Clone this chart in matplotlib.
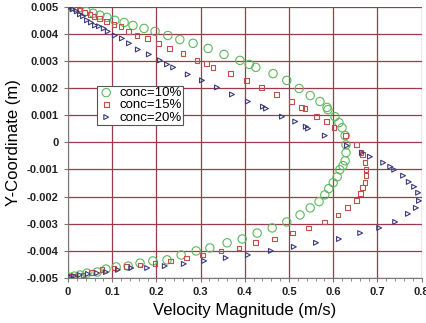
import matplotlib

matplotlib.use("Agg")
import matplotlib.pyplot as plt
from matplotlib.ticker import MultipleLocator

plt.rcParams["font.family"] = ["Liberation Sans", "DejaVu Sans"]

# conc=10% (green circles)
x10 = [0.0, 0.005, 0.023, 0.041, 0.057, 0.072, 0.088, 0.106, 0.127, 0.147, 0.172, 0.197,
       0.226, 0.253, 0.283, 0.317, 0.353, 0.389, 0.410, 0.425, 0.464, 0.495, 0.523, 0.548,
       0.570, 0.586, 0.588, 0.604, 0.613, 0.620, 0.627, 0.629, 0.629, 0.627, 0.622, 0.615,
       0.609, 0.600, 0.590, 0.581, 0.568, 0.548, 0.525, 0.495, 0.462, 0.428, 0.394, 0.360,
       0.321, 0.290, 0.256, 0.224, 0.192, 0.163, 0.136, 0.109, 0.086, 0.066, 0.043, 0.027,
       0.014, 0.0]
y10 = [0.00500, 0.00500, 0.00495, 0.00484, 0.00477, 0.00470, 0.00462, 0.00451, 0.00443,
       0.00432, 0.00421, 0.00410, 0.00395, 0.00380, 0.00366, 0.00347, 0.00325, 0.00303,
       0.00288, 0.00277, 0.00254, 0.00229, 0.00199, 0.00173, 0.00151, 0.00129, 0.00121,
       0.00095, 0.00073, 0.00054, 0.00025, -0.00009, -0.00038, -0.00068, -0.00086, -0.00101,
       -0.00127, -0.00149, -0.00171, -0.00194, -0.00219, -0.00242, -0.00268, -0.00294,
       -0.00316, -0.00335, -0.00357, -0.00371, -0.00390, -0.00401, -0.00416, -0.00434,
       -0.00438, -0.00446, -0.00457, -0.00460, -0.00468, -0.00479, -0.00483, -0.00490,
       -0.00494, -0.00497]

# conc=15% (red squares)
x15 = [0.002, 0.016, 0.027, 0.038, 0.050, 0.059, 0.072, 0.088, 0.104, 0.120, 0.136, 0.156,
       0.179, 0.204, 0.229, 0.260, 0.292, 0.314, 0.328, 0.367, 0.403, 0.437, 0.471, 0.505,
       0.529, 0.536, 0.563, 0.584, 0.602, 0.627, 0.652, 0.663, 0.667, 0.672, 0.674, 0.674,
       0.672, 0.667, 0.661, 0.652, 0.633, 0.611, 0.581, 0.545, 0.507, 0.468, 0.425, 0.387,
       0.346, 0.305, 0.269, 0.231, 0.197, 0.163, 0.133, 0.104, 0.077, 0.054, 0.034, 0.016,
       0.007]
y15 = [0.00500, 0.00495, 0.00488, 0.00480, 0.00473, 0.00466, 0.00458, 0.00447, 0.00436,
       0.00429, 0.00410, 0.00395, 0.00384, 0.00366, 0.00347, 0.00329, 0.00303, 0.00292,
       0.00277, 0.00254, 0.00229, 0.00203, 0.00177, 0.00151, 0.00129, 0.00125, 0.00095,
       0.00077, 0.00054, 0.00025, -0.00009, -0.00038, -0.00046, -0.00075, -0.00101,
       -0.00123, -0.00149, -0.00168, -0.00190, -0.00216, -0.00242, -0.00268, -0.00294,
       -0.00316, -0.00335, -0.00357, -0.00371, -0.00390, -0.00401, -0.00416, -0.00427,
       -0.00438, -0.00446, -0.00453, -0.00460, -0.00464, -0.00471, -0.00482, -0.00490,
       -0.00494, -0.00497]

# conc=20% (blue triangles)
x20 = [0.005, 0.011, 0.020, 0.027, 0.034, 0.043, 0.052, 0.061, 0.070, 0.081, 0.090, 0.106,
       0.122, 0.138, 0.158, 0.183, 0.208, 0.224, 0.238, 0.271, 0.303, 0.337, 0.371, 0.407,
       0.441, 0.448, 0.484, 0.514, 0.538, 0.543, 0.581, 0.631, 0.665, 0.683, 0.713, 0.729,
       0.738, 0.758, 0.771, 0.783, 0.792, 0.794, 0.787, 0.769, 0.740, 0.704, 0.661, 0.613,
       0.561, 0.511, 0.459, 0.407, 0.357, 0.308, 0.262, 0.219, 0.179, 0.143, 0.113, 0.086,
       0.066, 0.045, 0.027, 0.014, 0.005]
y20 = [0.00500, 0.00492, 0.00484, 0.00473, 0.00466, 0.00451, 0.00443, 0.00432, 0.00429,
       0.00421, 0.00410, 0.00395, 0.00384, 0.00366, 0.00343, 0.00325, 0.00303, 0.00288,
       0.00277, 0.00251, 0.00229, 0.00203, 0.00177, 0.00151, 0.00132, 0.00125, 0.00095,
       0.00077, 0.00058, 0.00051, 0.00025, -0.00012, -0.00038, -0.00053, -0.00075,
       -0.00090, -0.00101, -0.00123, -0.00146, -0.00164, -0.00186, -0.00216, -0.00242,
       -0.00264, -0.00294, -0.00316, -0.00335, -0.00357, -0.00371, -0.00386, -0.00401,
       -0.00416, -0.00427, -0.00438, -0.00449, -0.00457, -0.00464, -0.00464, -0.00471,
       -0.00479, -0.00483, -0.00486, -0.00490, -0.00494, -0.00497]

x_ticks = [0, 0.1, 0.2, 0.3, 0.4, 0.5, 0.6, 0.7, 0.8]
y_ticks = [0.005, 0.004, 0.003, 0.002, 0.001, 0, -0.001, -0.002, -0.003, -0.004, -0.005]

fig = plt.figure(figsize=(4.26, 3.23), dpi=100)
ax = fig.add_axes([0.1596, 0.1402, 0.8301, 0.838])

ax.scatter(x10, y10, s=36, marker="o", facecolors="none", edgecolors="#5cb85c",
           linewidths=0.8, label="conc=10%", zorder=3)
ax.scatter(x15, y15, s=12, marker="s", facecolors="none", edgecolors="#c0504d",
           linewidths=0.8, label="conc=15%", zorder=3)
ax.scatter(x20, y20, s=12, marker=">", facecolors="none", edgecolors="#3b3b7a",
           linewidths=0.8, label="conc=20%", zorder=3)

ax.set_xlim(0, 0.8)
ax.set_ylim(-0.005, 0.005)
ax.set_xticks(x_ticks)
ax.set_xticklabels([f"{v:g}" for v in x_ticks])
ax.set_yticks(y_ticks)
ax.set_yticklabels([f"{v:g}" if v == 0 else f"{v:.3f}" for v in y_ticks])
ax.xaxis.set_minor_locator(MultipleLocator(0.02))
ax.tick_params(axis="both", which="major", labelsize=8, length=3, color="#777777", pad=4)
ax.tick_params(axis="x", which="minor", length=2, color="#777777")
for lbl in ax.get_xticklabels() + ax.get_yticklabels():
    lbl.set_fontweight("bold")
    lbl.set_color("#222222")

ax.grid(True, color="#9b3a4a", linewidth=0.9)
ax.set_axisbelow(True)
for side in ["top", "right"]:
    ax.spines[side].set_visible(False)
for side in ["left", "bottom"]:
    ax.spines[side].set_color("#777777")

ax.set_xlabel("Velocity Magnitude (m/s)", fontsize=12, labelpad=4)
ax.set_ylabel("Y-Coordinate (m)", fontsize=12, labelpad=4)

leg = ax.legend(loc="upper left", bbox_to_anchor=(0.082, 0.71), borderaxespad=0,
                fontsize=9.5, labelspacing=0.0, handletextpad=0.4, borderpad=0.1,
                handlelength=1.2, fancybox=False, framealpha=1)
leg.get_frame().set_edgecolor("#555555")
leg.get_frame().set_linewidth(0.8)

fig.savefig("out.png", dpi=100)
